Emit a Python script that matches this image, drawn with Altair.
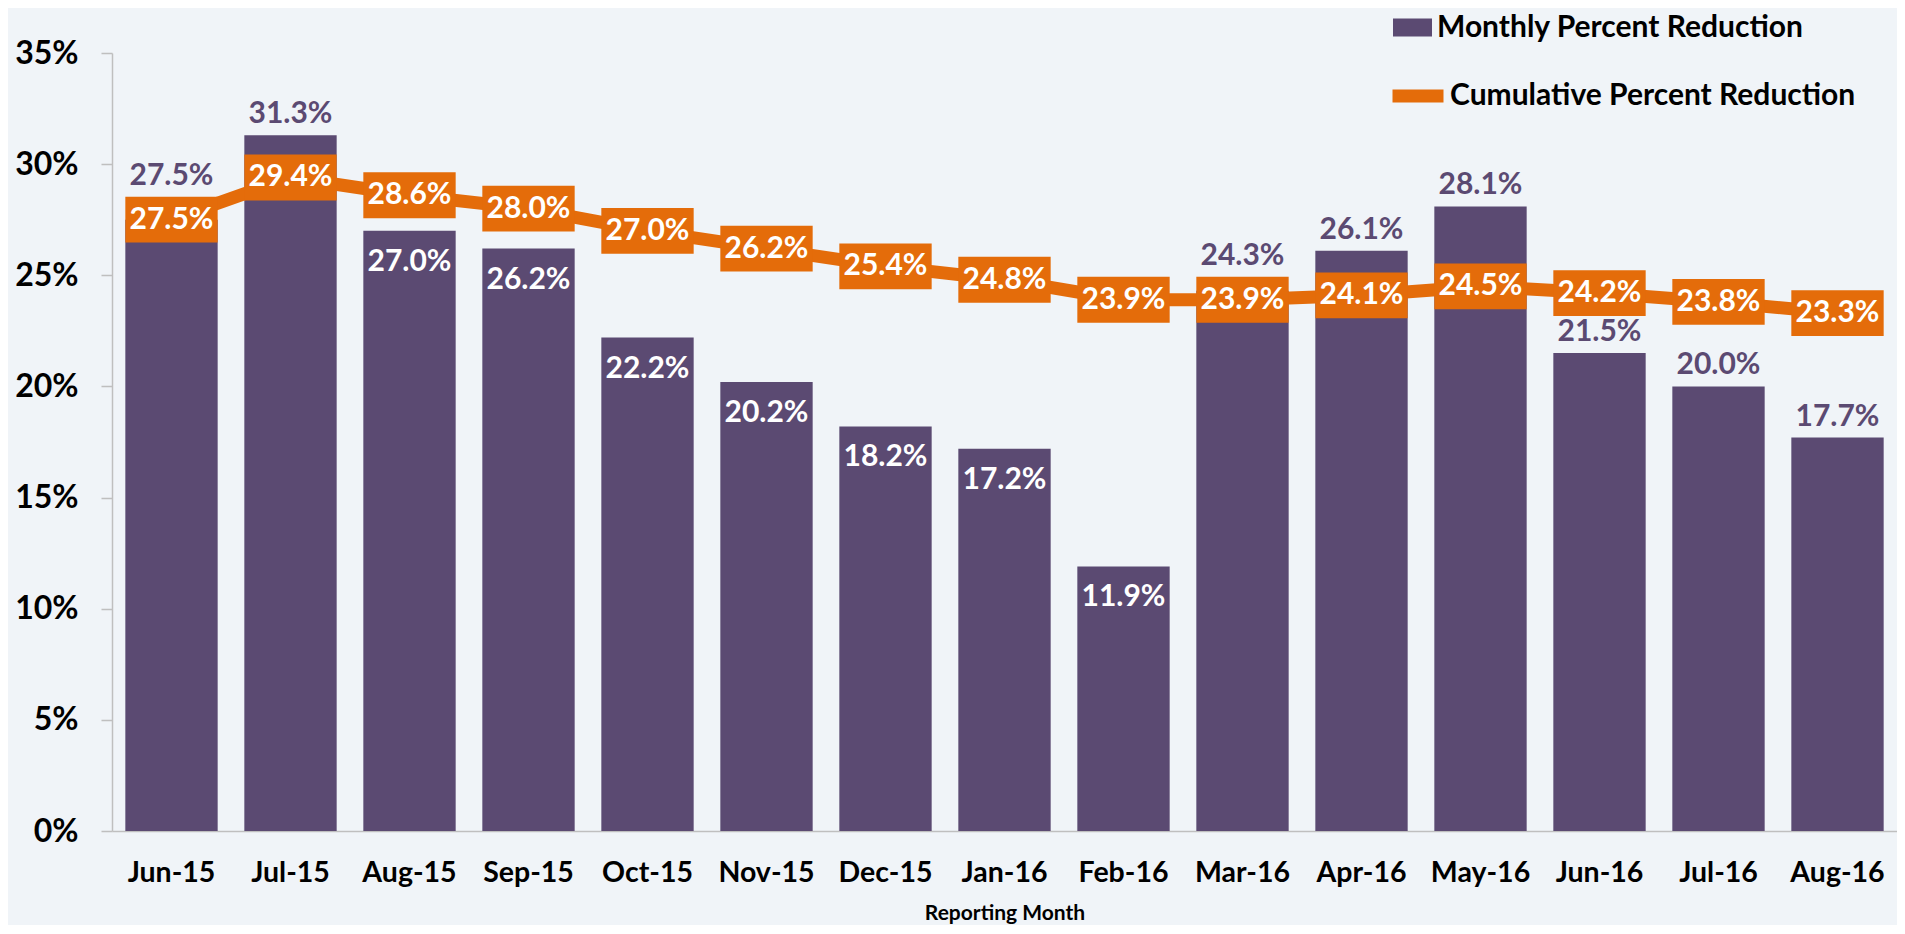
import altair as alt
import pandas as pd

# ---- data ----
months = ["Jun-15", "Jul-15", "Aug-15", "Sep-15", "Oct-15", "Nov-15", "Dec-15", "Jan-16",
          "Feb-16", "Mar-16", "Apr-16", "May-16", "Jun-16", "Jul-16", "Aug-16"]
monthly = [27.5, 31.3, 27.0, 26.2, 22.2, 20.2, 18.2, 17.2, 11.9, 24.3, 26.1, 28.1, 21.5, 20.0, 17.7]
cumulative = [27.5, 29.4, 28.6, 28.0, 27.0, 26.2, 25.4, 24.8, 23.9, 23.9, 24.1, 24.5, 24.2, 23.8, 23.3]
inside_label_months = ["Aug-15", "Sep-15", "Oct-15", "Nov-15", "Dec-15", "Jan-16", "Feb-16"]
y_ticks = [0, 5, 10, 15, 20, 25, 30, 35]
monthly_name = "Monthly Percent Reduction"
cumulative_name = "Cumulative Percent Reduction"

df = pd.DataFrame({"month": months, "monthly": monthly, "cumulative": cumulative})
df["inside"] = df["month"].isin(inside_label_months)

PURPLE = "#5B4A72"
ORANGE = "#E46C0A"
FONT = "Lato"
BOX_HALF = 1.03  # half height of the cumulative label boxes, in axis units
LABEL_SIZE = 30

x_enc = alt.X(
    "month:N", sort=months,
    scale=alt.Scale(paddingInner=0.224, paddingOuter=0.112),
    axis=alt.Axis(
        title="Reporting Month", titleFont=FONT, titleFontSize=21, titleFontWeight="bold",
        titleColor="black", titlePadding=16,
        labelFont=FONT, labelFontSize=28.5, labelFontWeight="bold", labelColor="black",
        labelAngle=0, labelPadding=27, ticks=False, tickSize=0,
        domainColor="#BFBFBF", domainWidth=1.5,
    ),
)
y_scale = alt.Scale(domain=[0, 35], nice=False, zero=True)

base = alt.Chart(df).encode(x=x_enc)

bars = base.mark_bar().transform_calculate(series=f"'{monthly_name}'").encode(
    y=alt.Y(
        "monthly:Q", scale=y_scale, title=None,
        axis=alt.Axis(
            values=y_ticks, labelExpr="datum.value + '%'", grid=False,
            labelFont=FONT, labelFontSize=32, labelFontWeight="bold", labelColor="black",
            labelPadding=23, tickSize=11, tickColor="#BFBFBF", domainColor="#BFBFBF",
            domainWidth=1.5, tickWidth=1.5,
        ),
    ),
    fill=alt.Fill(
        "series:N",
        scale=alt.Scale(domain=[monthly_name], range=[PURPLE]),
        legend=alt.Legend(
            title=None, orient="none", legendX=1281, legendY=-45, padding=0,
            symbolType="M-1,-0.46L1,-0.46L1,0.46L-1,0.46Z", symbolSize=1521,
            symbolStrokeWidth=0, labelFont=FONT, labelFontSize=30,
            labelFontWeight="bold", labelColor="black", labelOffset=5, labelLimit=0,
        ),
    ),
)

line = base.mark_line(strokeWidth=13, strokeJoin="round", strokeCap="round").transform_calculate(
    series2=f"'{cumulative_name}'"
).encode(
    y=alt.Y("cumulative:Q", scale=y_scale, title=None),
    stroke=alt.Stroke(
        "series2:N",
        scale=alt.Scale(domain=[cumulative_name], range=[ORANGE]),
        legend=alt.Legend(
            title=None, orient="none", legendX=1274, legendY=11, padding=0,
            symbolType="stroke", symbolSize=2601, symbolStrokeWidth=13,
            labelFont=FONT, labelFontSize=30, labelFontWeight="bold",
            labelColor="black", labelOffset=0, labelLimit=0,
        ),
    ),
)

boxes = base.mark_bar(color=ORANGE).transform_calculate(
    lo=f"datum.cumulative - {BOX_HALF}", hi=f"datum.cumulative + {BOX_HALF}"
).encode(
    y=alt.Y("lo:Q", scale=y_scale, title=None),
    y2="hi:Q",
)

box_text = base.mark_text(
    color="white", font=FONT, fontSize=LABEL_SIZE, fontWeight="bold", baseline="middle"
).transform_calculate(
    clabel="format(datum.cumulative, '.1f') + '%'"
).encode(
    y=alt.Y("cumulative:Q", scale=y_scale, title=None),
    text="clabel:N",
)

above_text = base.mark_text(
    color=PURPLE, font=FONT, fontSize=LABEL_SIZE, fontWeight="bold", baseline="middle", dy=-21
).transform_filter("!datum.inside").transform_calculate(
    mlabel="format(datum.monthly, '.1f') + '%'",
    anchor=f"datum.monthly >= datum.cumulative - {BOX_HALF} ? max(datum.monthly, datum.cumulative + {BOX_HALF}) : datum.monthly",
).encode(
    y=alt.Y("anchor:Q", scale=y_scale, title=None),
    text="mlabel:N",
)

inside_text = base.mark_text(
    color="white", font=FONT, fontSize=LABEL_SIZE, fontWeight="bold", baseline="middle", dy=31
).transform_filter("datum.inside").transform_calculate(
    mlabel="format(datum.monthly, '.1f') + '%'"
).encode(
    y=alt.Y("monthly:Q", scale=y_scale, title=None),
    text="mlabel:N",
)

chart = alt.layer(bars, line, boxes, box_text, above_text, inside_text).resolve_scale(
    y="shared"
).properties(
    width=1785, height=778,
    padding={"left": 104, "top": 45, "right": 0, "bottom": 94},
    autosize=alt.AutoSizeParams(type="none"),
    background="#F0F4F8",
).configure_view(stroke=None)

chart.save("out.html", embed_options={"renderer": "svg", "actions": False})
